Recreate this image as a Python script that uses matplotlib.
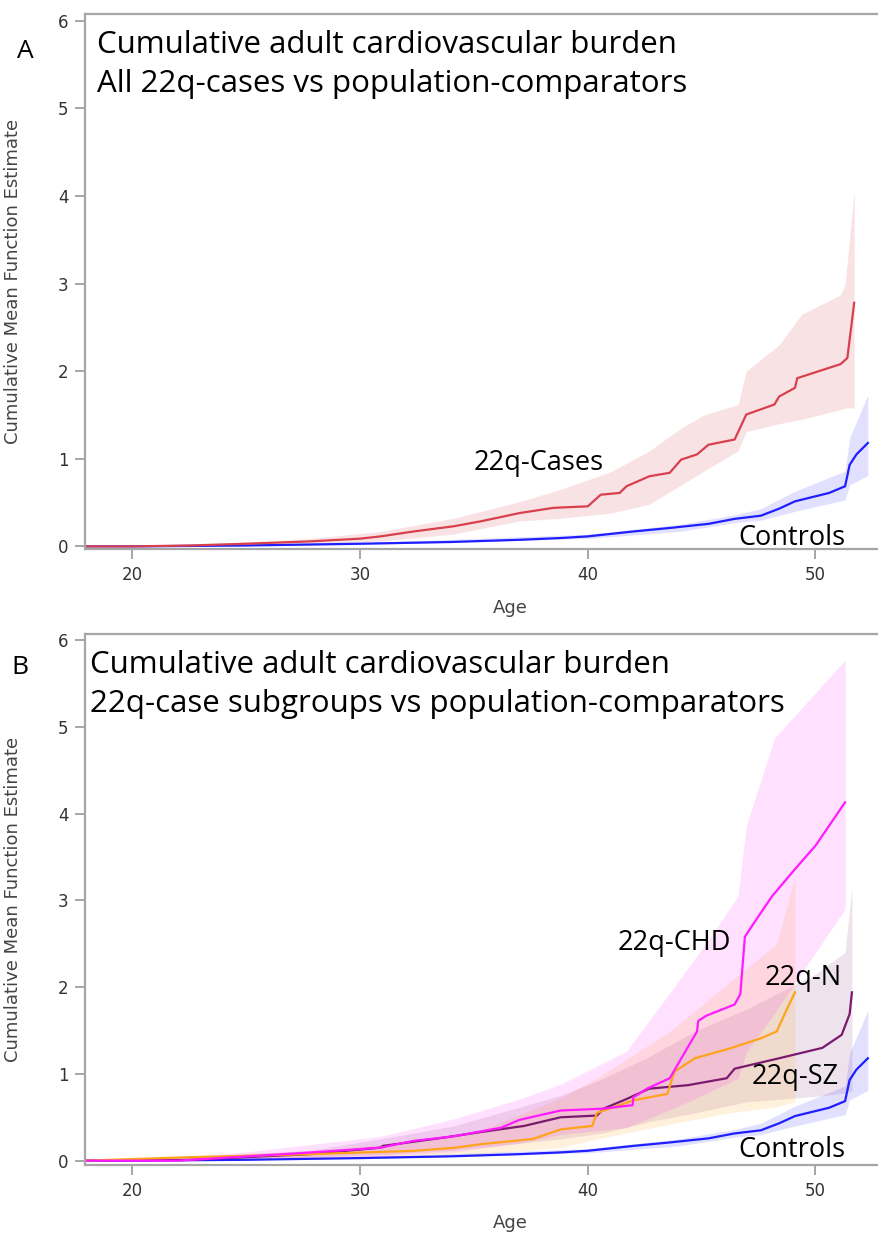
import matplotlib
matplotlib.use("Agg")
import matplotlib.pyplot as plt

# ---- panel A: all 22q cases vs controls ----
cases_age = [17.9, 20.0, 22.5, 25.0, 27.8, 30.0, 30.9, 32.35, 34.1, 35.3, 37.0, 38.5, 40.0, 40.57, 41.4,
             41.7, 42.7, 43.6, 44.1, 44.8, 45.3, 46.45, 46.96, 48.2, 48.4, 49.1, 49.2, 51.1, 51.4, 51.7]
cases_val = [0.0, 0.0, 0.01, 0.03, 0.057, 0.088, 0.114, 0.17, 0.229, 0.286, 0.38, 0.44, 0.457, 0.59, 0.61,
             0.686, 0.80, 0.84, 0.99, 1.05, 1.16, 1.22, 1.505, 1.62, 1.71, 1.81, 1.92, 2.08, 2.15, 2.78]
cases_band_age = [22.5, 25.0, 27.8, 30.9, 34.1, 37.0, 38.8, 41.0, 42.7, 44.1, 45.1, 46.6, 46.96, 48.4, 49.4,
                  51.1, 51.3, 51.7]
cases_hi = [0.02, 0.05, 0.09, 0.17, 0.32, 0.51, 0.65, 0.85, 1.09, 1.35, 1.50, 1.62, 2.0, 2.30, 2.65,
            2.87, 2.99, 4.06]
cases_lo = [0.0, 0.02, 0.03, 0.06, 0.14, 0.29, 0.32, 0.38, 0.48, 0.70, 0.86, 1.09, 1.31, 1.40, 1.45,
            1.56, 1.58, 1.58]

ctrl_age = [17.9, 20.0, 25.0, 30.0, 34.0, 37.0, 38.8, 40.0, 42.0, 43.6, 45.3, 46.45, 47.6, 48.4, 49.1,
            50.6, 51.3, 51.5, 51.8, 52.3]
ctrl_val = [0.0, 0.0, 0.01, 0.03, 0.05, 0.075, 0.095, 0.114, 0.17, 0.21, 0.257, 0.314, 0.35, 0.43, 0.514,
            0.61, 0.686, 0.93, 1.05, 1.18]
ctrl_band_age = [17.9, 30.0, 40.0, 44.0, 46.45, 47.6, 49.1, 51.3, 51.5, 52.3]
ctrl_hi = [0.0, 0.04, 0.14, 0.25, 0.36, 0.43, 0.63, 0.86, 1.24, 1.73]
ctrl_lo = [0.0, 0.02, 0.09, 0.17, 0.27, 0.30, 0.40, 0.53, 0.70, 0.81]

# ---- panel B: 22q subgroups ----
chd_age = [17.9, 22.0, 27.8, 30.9, 32.35, 34.1, 36.2, 37.0, 38.81, 40.7, 41.97, 42.0, 42.6, 43.6, 44.2,
           44.8, 44.85, 45.2, 46.45, 46.7, 46.9, 47.3, 48.1, 49.1, 50.0, 51.3]
chd_val = [0.0, 0.0, 0.094, 0.15, 0.228, 0.28, 0.38, 0.47, 0.578, 0.60, 0.64, 0.73, 0.83, 0.95, 1.22,
           1.49, 1.61, 1.67, 1.80, 1.92, 2.58, 2.74, 3.05, 3.36, 3.63, 4.13]
chd_band_age = [20.5, 25.0, 30.9, 34.1, 37.0, 38.8, 41.7, 43.9, 45.4, 46.6, 46.96, 48.2, 51.3]
chd_hi = [0.01, 0.10, 0.28, 0.48, 0.71, 0.88, 1.26, 2.04, 2.58, 3.05, 3.86, 4.87, 5.77]
chd_lo = [0.0, 0.01, 0.05, 0.10, 0.20, 0.30, 0.38, 0.62, 0.80, 0.95, 1.25, 1.70, 2.90]

n_age = [17.9, 22.5, 27.8, 32.35, 34.2, 35.3, 37.6, 38.81, 40.2, 40.4, 42.0, 43.5, 43.8, 44.7, 46.2,
         47.6, 48.3, 48.7, 49.1]
n_val = [0.0, 0.04, 0.075, 0.113, 0.15, 0.19, 0.25, 0.36, 0.40, 0.55, 0.695, 0.77, 1.025, 1.18, 1.29,
         1.41, 1.49, 1.72, 1.94]
n_band_age = [22.5, 27.8, 32.35, 35.3, 38.8, 40.4, 43.6, 46.2, 48.3, 49.1]
n_hi = [0.05, 0.11, 0.22, 0.35, 0.72, 0.95, 1.49, 2.05, 2.50, 3.28]
n_lo = [0.02, 0.04, 0.05, 0.08, 0.15, 0.25, 0.42, 0.55, 0.62, 0.68]

sz_age = [17.9, 22.5, 27.8, 30.9, 31.0, 33.8, 35.3, 37.2, 38.81, 40.4, 40.7, 41.7, 42.7, 44.4, 46.1,
          46.45, 48.4, 50.3, 51.15, 51.5, 51.6]
sz_val = [0.0, 0.01, 0.075, 0.15, 0.17, 0.27, 0.33, 0.40, 0.50, 0.52, 0.60, 0.71, 0.83, 0.87, 0.95,
          1.06, 1.18, 1.30, 1.45, 1.69, 1.94]
sz_band_age = [20.5, 27.8, 30.9, 34.1, 38.8, 40.7, 42.7, 44.7, 47.0, 50.0, 51.3, 51.6]
sz_hi = [0.01, 0.12, 0.25, 0.40, 0.75, 0.95, 1.20, 1.49, 1.75, 2.15, 2.40, 3.16]
sz_lo = [0.0, 0.04, 0.07, 0.12, 0.25, 0.32, 0.45, 0.55, 0.68, 0.74, 0.78, 0.80]

RED = '#d8404e'
BLUE = '#1e1eff'
MAG = '#ff1aff'
ORANGE = '#ffa31a'
PURPLE = '#7a1a6e'
SPINE = '#a6a6a6'

W, H = 879, 1234
fig = plt.figure(figsize=(W / 100, H / 100), dpi=100)


def make_axes(top_px, bottom_px, ylim, xlab_y):
    ax = fig.add_axes([85 / W, 1 - bottom_px / H, (W - 85) / W, (bottom_px - top_px) / H])
    ax.set_xlim(17.92, 52.79)
    ax.set_ylim(*ylim)
    ax.set_xticks([20, 30, 40, 50])
    ax.set_yticks([0, 1, 2, 3, 4, 5, 6])
    for s in ['left', 'bottom', 'top']:
        ax.spines[s].set_color(SPINE)
        ax.spines[s].set_linewidth(1.6)
    ax.spines['right'].set_visible(False)
    ax.tick_params(length=7, width=1.4, color=SPINE, labelsize=12, labelcolor='#333333', pad=5)
    ax.set_xlabel('Age', fontsize=13, color='#444444', va='center')
    ax.set_ylabel('Cumulative Mean Function Estimate', fontsize=13, color='#444444')
    ax.xaxis.set_label_coords(0.536, xlab_y)
    ax.yaxis.set_label_coords(-0.079, 0.5)
    return ax


def series(ax, age, val, band_age, lo, hi, color, band_alpha):
    ax.fill_between(band_age, lo, hi, color=color, alpha=band_alpha, linewidth=0)
    ax.plot(age, val, color=color, linewidth=1.6)


lab_font = dict(family=['Open Sans', 'DejaVu Sans'], color='black')
LAB = 19.5
TTL = 22.5

# panel A
axA = make_axes(14, 549, (-0.03, 6.077), -0.110)
series(axA, ctrl_age, ctrl_val, ctrl_band_age, ctrl_lo, ctrl_hi, BLUE, 0.13)
series(axA, cases_age, cases_val, cases_band_age, cases_lo, cases_hi, RED, 0.15)
axA.text(34.98, 0.95, '22q-Cases', fontsize=LAB, va='center', **lab_font)
axA.text(46.6, 0.09, 'Controls', fontsize=LAB, va='center', **lab_font)
fig.text(97 / W, 1 - 45 / H, 'Cumulative adult cardiovascular burden', fontsize=TTL, va='center', **lab_font)
fig.text(97 / W, 1 - 84 / H, 'All 22q-cases vs population-comparators', fontsize=TTL, va='center', **lab_font)
fig.text(25 / W, 1 - 52 / H, 'A', fontsize=19, va='center', ha='center', **lab_font)

# panel B
axB = make_axes(634, 1165, (-0.05, 6.07), -0.110)
series(axB, ctrl_age, ctrl_val, ctrl_band_age, ctrl_lo, ctrl_hi, BLUE, 0.13)
series(axB, sz_age, sz_val, sz_band_age, sz_lo, sz_hi, PURPLE, 0.12)
series(axB, n_age, n_val, n_band_age, n_lo, n_hi, ORANGE, 0.15)
series(axB, chd_age, chd_val, chd_band_age, chd_lo, chd_hi, MAG, 0.13)
axB.text(41.3, 2.51, '22q-CHD', fontsize=LAB, va='center', **lab_font)
axB.text(47.75, 2.11, '22q-N', fontsize=LAB, va='center', **lab_font)
axB.text(47.2, 0.96, '22q-SZ', fontsize=LAB, va='center', **lab_font)
axB.text(46.6, 0.12, 'Controls', fontsize=LAB, va='center', **lab_font)
fig.text(90 / W, 1 - 665 / H, 'Cumulative adult cardiovascular burden', fontsize=TTL, va='center', **lab_font)
fig.text(90 / W, 1 - 704 / H, '22q-case subgroups vs population-comparators', fontsize=TTL, va='center', **lab_font)
fig.text(20 / W, 1 - 668 / H, 'B', fontsize=19, va='center', ha='center', **lab_font)

fig.savefig('out.png', dpi=100)
